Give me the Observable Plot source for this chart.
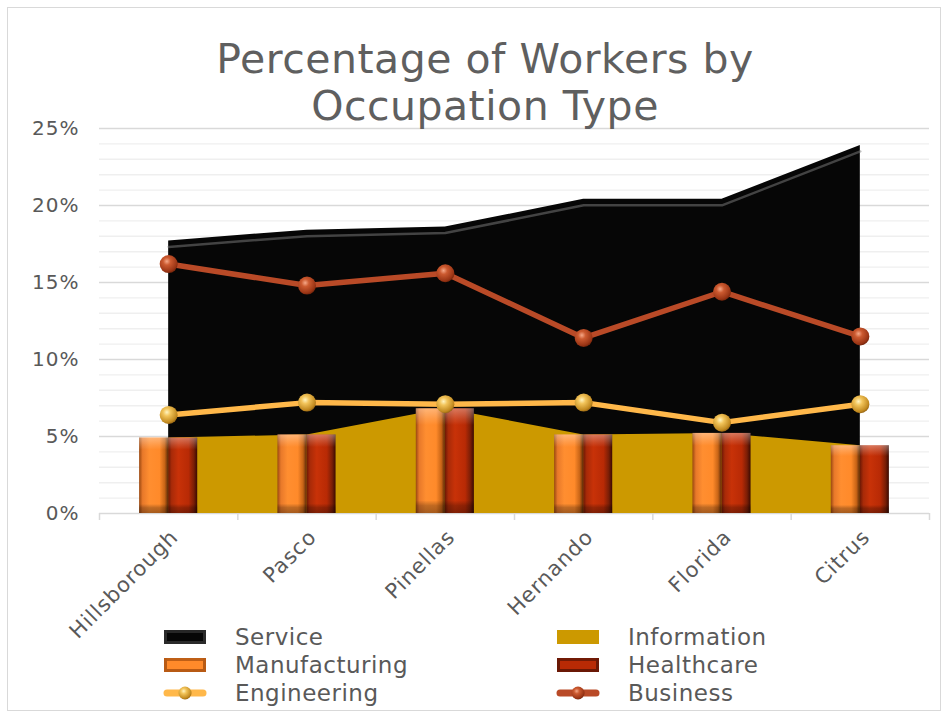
<!DOCTYPE html>
<html><head><meta charset="utf-8">
<script src="https://cdn.jsdelivr.net/npm/d3@7"></script>
<script src="https://cdn.jsdelivr.net/npm/@observablehq/plot@0.6"></script>
<style>
body{margin:0;background:#fff;}
#wrap{position:relative;width:949px;height:719px;overflow:hidden;font-family:"DejaVu Sans",sans-serif;color:#595959;background:#fff;}
#border{position:absolute;left:7px;top:7px;width:934px;height:704px;border:1px solid #d9d9d9;box-sizing:border-box;}
#title{position:absolute;left:0;width:970px;top:36px;text-align:center;font-size:41px;line-height:47px;color:#5f5f5f;letter-spacing:0.5px;}
#chart{position:absolute;left:0;top:0;}
.lg{position:absolute;height:28px;display:flex;align-items:center;font-size:23px;letter-spacing:0.5px;color:#595959;}
.lg svg{margin-right:28px;}
</style></head>
<body><div id="wrap"><div id="border"></div><div id="chart"></div><div id="title">Percentage of Workers by<br>Occupation Type</div><div id="legend"></div></div>
<script>
const categories = ["Hillsborough","Pasco","Pinellas","Hernando","Florida","Citrus"];
const service       = [17.7, 18.4, 18.6, 20.4, 20.4, 23.9];
const information   = [4.9, 5.1, 6.8, 5.1, 5.2, 4.4];
const manufacturing = [4.9, 5.1, 6.8, 5.1, 5.2, 4.4];
const healthcare    = [4.9, 5.1, 6.8, 5.1, 5.2, 4.4];
const engineering   = [6.4, 7.2, 7.1, 7.2, 5.9, 7.1];
const business      = [16.2, 14.8, 15.6, 11.4, 14.4, 11.5];
const yTicks = [0, 5, 10, 15, 20, 25];
const minorTicks = d3.range(1, 25).filter(v => v % 5 !== 0);

const rows = categories.map((c, i) => ({
  i, c, service: service[i], information: information[i], manufacturing: manufacturing[i],
  healthcare: healthcare[i], engineering: engineering[i], business: business[i]
}));
const boundaries = d3.range(0, categories.length + 1).map(v => v - 0.5);
const barW = 0.21;

const svg = Plot.plot({
  width: 949, height: 620,
  marginLeft: 99, marginRight: 20, marginTop: 128, marginBottom: 107,
  style: {fontFamily: "DejaVu Sans, sans-serif", fontSize: "20px", letterSpacing: "1px", color: "#595959", background: "transparent", overflow: "visible"},
  x: {type: "linear", domain: [-0.5, categories.length - 0.5], axis: null},
  y: {domain: [0, 25], ticks: yTicks, tickFormat: d => d + "%", tickSize: 0, tickPadding: 20, label: null},
  marks: [
    Plot.ruleY(minorTicks, {stroke: "#efefef", strokeWidth: 1.4}),
    Plot.ruleY(yTicks.filter(v => v > 0), {stroke: "#d9d9d9", strokeWidth: 1.4}),
    Plot.ruleY([0], {stroke: "#d9d9d9", strokeWidth: 1.5}),
    Plot.ruleX(boundaries, {y1: 0, y2: 0, insetTop: 7, stroke: "#d9d9d9", strokeWidth: 1.5}),
    Plot.areaY(rows, {x: "i", y: "service", fill: "#060606"}),
    Plot.lineY(rows, {x: "i", y: "service", dy: 6, stroke: "#808080", strokeWidth: 2.5, strokeOpacity: 0.5}),
    Plot.areaY(rows, {x: "i", y: "information", fill: "#CC9900"}),
    Plot.rectY(rows, {x1: d => d.i - barW, x2: d => d.i, y: "manufacturing", fill: "url(#mfgGrad)"}),
    Plot.rectY(rows, {x1: d => d.i - barW, x2: d => d.i, y: "manufacturing", fill: "url(#bevelV)"}),
    Plot.rectY(rows, {x1: d => d.i, x2: d => d.i + barW, y: "healthcare", fill: "url(#hcGrad)"}),
    Plot.rectY(rows, {x1: d => d.i, x2: d => d.i + barW, y: "healthcare", fill: "url(#bevelV)"}),
    Plot.lineY(rows, {x: "i", y: "engineering", stroke: "#FFB84A", strokeWidth: 5.5}),
    Plot.dot(rows, {x: "i", y: "engineering", r: 9, fill: "url(#engBall)"}),
    Plot.lineY(rows, {x: "i", y: "business", stroke: "#B94A27", strokeWidth: 5.5}),
    Plot.dot(rows, {x: "i", y: "business", r: 9, fill: "url(#busBall)"}),
    Plot.text(rows, {x: "i", y: () => 0, text: "c", rotate: -45, textAnchor: "end", dx: 6, dy: 20, fill: "#595959", fontSize: 21})
  ]
});

const defs = `
<linearGradient id="mfgGrad" x1="0" x2="1" y1="0" y2="0">
 <stop offset="0" stop-color="#9A4810"/><stop offset="0.12" stop-color="#E8792A"/>
 <stop offset="0.35" stop-color="#FF8E30"/><stop offset="0.7" stop-color="#FF8A2A"/>
 <stop offset="0.88" stop-color="#C86416"/><stop offset="1" stop-color="#5A2A08"/>
</linearGradient>
<linearGradient id="hcGrad" x1="0" x2="1" y1="0" y2="0">
 <stop offset="0" stop-color="#6A1805"/><stop offset="0.12" stop-color="#A82A08"/>
 <stop offset="0.35" stop-color="#C83208"/><stop offset="0.7" stop-color="#B82A05"/>
 <stop offset="0.88" stop-color="#7A1E06"/><stop offset="1" stop-color="#3A0A02"/>
</linearGradient>
<linearGradient id="bevelV" x1="0" x2="0" y1="0" y2="1">
 <stop offset="0" stop-color="#fff" stop-opacity="0.35"/><stop offset="0.1" stop-color="#fff" stop-opacity="0.12"/>
 <stop offset="0.16" stop-color="#fff" stop-opacity="0"/><stop offset="0.88" stop-color="#000" stop-opacity="0"/>
 <stop offset="0.93" stop-color="#000" stop-opacity="0.25"/><stop offset="1" stop-color="#000" stop-opacity="0.35"/>
</linearGradient>
<radialGradient id="engBall" cx="0.4" cy="0.35" r="0.7">
 <stop offset="0" stop-color="#FFF4C0"/><stop offset="0.3" stop-color="#F2C45A"/>
 <stop offset="0.8" stop-color="#C28A20"/><stop offset="1" stop-color="#8A5A10"/>
</radialGradient>
<radialGradient id="busBall" cx="0.4" cy="0.35" r="0.7">
 <stop offset="0" stop-color="#F5A888"/><stop offset="0.3" stop-color="#CC5A30"/>
 <stop offset="0.8" stop-color="#9A3515"/><stop offset="1" stop-color="#6A2008"/>
</radialGradient>`;
const d = document.createElementNS("http://www.w3.org/2000/svg", "defs");
d.innerHTML = defs;
svg.insertBefore(d, svg.firstChild);
document.getElementById("chart").appendChild(svg);

// legend
const legendItems = [
  {name: "Service", kind: "bevel", col: 0, row: 0},
  {name: "Information", kind: "flat", fill: "#CC9900", col: 1, row: 0},
  {name: "Manufacturing", kind: "bevel", col: 0, row: 1},
  {name: "Healthcare", kind: "bevel", col: 1, row: 1},
  {name: "Engineering", kind: "line", stroke: "#FFB84A", ball: "url(#engBall)", col: 0, row: 2},
  {name: "Business", kind: "line", stroke: "#B94A27", ball: "url(#busBall)", col: 1, row: 2}
];
const colX = [163, 556];
const rowY = [623, 651, 679];
const leg = document.getElementById("legend");
legendItems.forEach(it => {
  const div = document.createElement("div");
  div.className = "lg";
  div.style.left = colX[it.col] + "px";
  div.style.top = rowY[it.row] + "px";
  let sw;
  if (it.kind === "line") {
    sw = `<svg width="44" height="20"><line x1="4" x2="40" y1="10" y2="10" stroke="${it.stroke}" stroke-width="7" stroke-linecap="round"/><circle cx="22" cy="10" r="6.5" fill="${it.ball}"/></svg>`;
  } else if (it.kind === "flat") {
    sw = `<svg width="44" height="20"><rect x="1" y="3" width="42" height="14" fill="${it.fill}"/></svg>`;
  } else {
    const base = it.name === "Service" ? ["#060606","#2a2a2a"] : it.name === "Manufacturing" ? ["#FF8A2A","#B85A14"] : ["#B82A05","#6A1805"];
    sw = `<svg width="44" height="20"><rect x="1" y="3" width="42" height="14" fill="${base[0]}"/>
      <rect x="1" y="3" width="42" height="3" fill="${base[1]}" opacity="0.9"/>
      <rect x="1" y="14" width="42" height="3" fill="${base[1]}"/>
      <rect x="1" y="3" width="3" height="14" fill="${base[1]}"/><rect x="40" y="3" width="3" height="14" fill="${base[1]}"/></svg>`;
  }
  div.innerHTML = sw + `<span>${it.name}</span>`;
  leg.appendChild(div);
});
</script></body></html>
